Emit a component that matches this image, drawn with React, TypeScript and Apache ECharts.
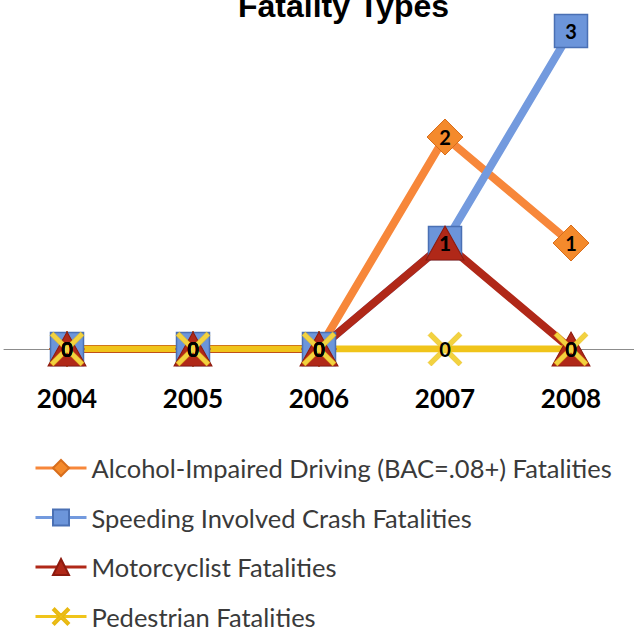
import React, { useEffect, useRef } from "react";
import * as echarts from "echarts";

const years = ["2004", "2005", "2006", "2007", "2008"];
const alcohol = [0, 0, 0, 2, 1];
const speeding = [0, 0, 0, 1, 3];
const motorcyclist = [0, 0, 0, 1, 0];
const pedestrian = [0, 0, 0, 0, 0];
const seriesNames = [
  "Alcohol-Impaired Driving (BAC=.08+) Fatalities",
  "Speeding Involved Crash Fatalities",
  "Motorcyclist Fatalities",
  "Pedestrian Fatalities",
];

const xPath =
  "path://M0,2 L2,0 L10,8 L18,0 L20,2 L12,10 L20,18 L18,20 L10,12 L2,20 L0,18 L8,10 Z";

export default function App() {
  const ref = useRef<HTMLDivElement>(null);
  useEffect(() => {
    if (!ref.current) return;
    const chart = echarts.init(ref.current, null, { renderer: "svg" });
    const label = {
      show: true,
      position: "inside",
      color: "#000",
      fontWeight: "bold",
      fontSize: 20,
      fontFamily: "Lato",
    };
    chart.setOption({
      animation: false,
      backgroundColor: "#fff",
      title: {
        text: "Fatality Types",
        left: 233,
        top: -15,
        textStyle: { fontFamily: "Liberation Sans", fontWeight: "bold", fontSize: 32, color: "#000" },
      },
      legend: {
        orient: "vertical",
        left: 34,
        top: 455,
        padding: 0,
        itemWidth: 51,
        itemHeight: 20,
        itemGap: 23.5,
        lineStyle: { width: 3 },
        textStyle: { fontFamily: "Lato", fontSize: 25.5, color: "#3a3a3a" },
        data: seriesNames,
      },
      grid: { left: 4, right: 0, top: 31, height: 318 },
      xAxis: {
        type: "category",
        data: years,
        axisLine: { lineStyle: { color: "#8c8c8c", width: 1 } },
        axisTick: { show: false },
        axisLabel: { color: "#000", fontWeight: "bold", fontSize: 26, fontFamily: "Lato", margin: 36 },
      },
      yAxis: {
        type: "value",
        min: 0,
        max: 3,
        show: false,
        splitLine: { show: false },
      },
      series: [
        {
          name: seriesNames[0],
          type: "line",
          data: alcohol,
          symbol: "diamond",
          symbolSize: 36,
          lineStyle: { color: "#F7873A", width: 8 },
          itemStyle: { color: "#F48A2C", borderColor: "#D86E1C", borderWidth: 1 },
          label,
        },
        {
          name: seriesNames[1],
          type: "line",
          data: speeding,
          symbol: "rect",
          symbolSize: 33,
          lineStyle: { color: "#739ADE", width: 8 },
          itemStyle: { color: "#6C95DA", borderColor: "#4A70B4", borderWidth: 1.5 },
          label,
        },
        {
          name: seriesNames[2],
          type: "line",
          data: motorcyclist,
          symbol: "triangle",
          symbolSize: [38, 34],
          lineStyle: { color: "#B02818", width: 8 },
          itemStyle: { color: "#B02818", borderColor: "#8C1A0E", borderWidth: 1 },
          label,
        },
        {
          name: seriesNames[3],
          type: "line",
          data: pedestrian,
          symbol: xPath,
          symbolSize: 34,
          lineStyle: { color: "#F0C41A", width: 7 },
          itemStyle: { color: "#F2D240", borderColor: "#E8B810", borderWidth: 0.5 },
          label,
        },
      ],
    });
    return () => chart.dispose();
  }, []);
  return (
    <div
      ref={ref}
      style={{ position: "fixed", left: 0, top: 0, width: 634, height: 680 }}
    />
  );
}
